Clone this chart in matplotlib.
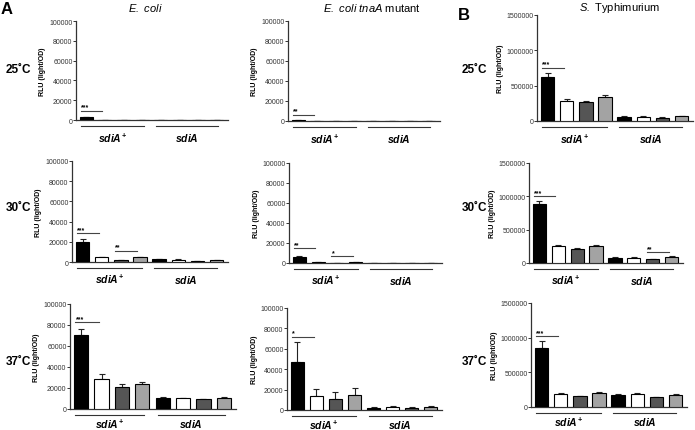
import numpy as np
import matplotlib
matplotlib.use('Agg')
import matplotlib.pyplot as plt
from matplotlib.transforms import offset_copy

plt.rcParams['font.family'] = ['Liberation Sans', 'DejaVu Sans']
plt.rcParams['mathtext.fontset'] = 'custom'
plt.rcParams['mathtext.it'] = 'Liberation Sans:italic:bold'
plt.rcParams['mathtext.rm'] = 'Liberation Sans:bold'
plt.rcParams['mathtext.bf'] = 'Liberation Sans:bold'
plt.rcParams['mathtext.sf'] = 'Liberation Sans:italic'

# data (RLU light/OD), 4 conditions per group: sdiA+ then sdiA
ecoli_25 = [2800, 400, 400, 400, 250, 250, 250, 250]
ecoli_25_err = [600, 50, 50, 50, 30, 30, 30, 30]
ecoli_30 = [20000, 4600, 1800, 4800, 2500, 2200, 900, 1700]
ecoli_30_err = [2800, 400, 200, 500, 300, 300, 100, 200]
ecoli_37 = [70500, 28500, 20800, 23500, 10300, 10500, 9500, 10400]
ecoli_37_err = [6000, 4800, 3000, 2000, 1200, 300, 300, 600]

tnaa_25 = [1000, 300, 300, 300, 100, 100, 100, 100]
tnaa_25_err = [200, 50, 50, 50, 20, 20, 20, 20]
tnaa_30 = [5700, 1000, 300, 800, 100, 100, 100, 100]
tnaa_30_err = [1500, 200, 100, 200, 20, 20, 20, 20]
tnaa_37 = [46700, 13500, 11000, 15000, 2300, 3000, 2300, 3000]
tnaa_37_err = [20000, 7200, 6700, 6700, 1000, 1000, 1000, 1000]

styph_25 = [619000, 290000, 262000, 333000, 62000, 60000, 48000, 67000]
styph_25_err = [57000, 24000, 24000, 34000, 5000, 5000, 4000, 5000]
styph_30 = [879000, 252000, 217000, 252000, 81000, 76000, 56000, 96000]
styph_30_err = [50000, 15000, 15000, 15000, 10000, 8000, 8000, 10000]
styph_37 = [850000, 192000, 154000, 200000, 178000, 192000, 139000, 178000]
styph_37_err = [100000, 15000, 10000, 15000, 10000, 10000, 8000, 10000]

# significance brackets: (first bar, second bar, height, stars)
sig_ecoli_25 = [(0, 1, 9400, '***')]
sig_ecoli_30 = [(0, 1, 28400, '***'), (2, 3, 11200, '**')]
sig_ecoli_37 = [(0, 1, 83000, '***')]
sig_tnaa_25 = [(0, 1, 6300, '**')]
sig_tnaa_30 = [(0, 1, 15000, '**'), (2, 3, 6700, '*')]
sig_tnaa_37 = [(0, 1, 72000, '*')]
sig_styph_25 = [(0, 1, 757000, '***')]
sig_styph_30 = [(0, 1, 1005000, '***'), (6, 7, 167000, '**')]
sig_styph_37 = [(0, 1, 1024000, '***')]

ecoli_ticks = [0, 20000, 40000, 60000, 80000, 100000]
styph_ticks = [0, 500000, 1000000, 1500000]
temps = ['25˚C', '30˚C', '37˚C']
groups = [r'$\mathit{sdiA}^{\mathrm{+}}$', r'$\mathit{sdiA}$']
bar_colors = ['#000000', '#ffffff', '#555555', '#a3a3a3']

W, H = 695, 431
fig = plt.figure(figsize=(W / 100, H / 100), dpi=100)

# axes boxes in pixels: left, right, top, bottom
boxes = [
    [(76, 228, 22, 121), (288, 440, 22, 122), (537, 693, 16, 122)],
    [(72, 228, 162, 263), (289, 442, 164, 264), (529, 683, 164, 264)],
    [(70, 236, 305, 410), (287, 442, 309, 411), (531, 687, 304, 408)],
]
label_offsets = [-12.5, -12, -10]
panels = [
    [(ecoli_25, ecoli_25_err, sig_ecoli_25), (tnaa_25, tnaa_25_err, sig_tnaa_25), (styph_25, styph_25_err, sig_styph_25)],
    [(ecoli_30, ecoli_30_err, sig_ecoli_30), (tnaa_30, tnaa_30_err, sig_tnaa_30), (styph_30, styph_30_err, sig_styph_30)],
    [(ecoli_37, ecoli_37_err, sig_ecoli_37), (tnaa_37, tnaa_37_err, sig_tnaa_37), (styph_37, styph_37_err, sig_styph_37)],
]

x = np.arange(8)
for r in range(3):
    for c in range(3):
        l, rr, t, b = boxes[r][c]
        ax = fig.add_axes([l / W, 1 - b / H, (rr - l) / W, (b - t) / H])
        vals, errs, sigs = panels[r][c]
        cols = bar_colors * 2
        ax.bar(x, vals, width=0.7, color=cols, edgecolor='black', linewidth=0.8, zorder=3)
        ax.errorbar(x, vals, yerr=[np.zeros(8), errs], fmt='none', ecolor='#222222',
                    elinewidth=0.8, capsize=2.2, capthick=0.8, zorder=2)
        ax.set_xlim(-0.55, 7.6)
        if c == 2:
            ax.set_ylim(0, 1500000)
            ax.set_yticks(styph_ticks)
        else:
            ax.set_ylim(0, 100000)
            ax.set_yticks(ecoli_ticks)
        ax.set_yticklabels([str(v) for v in ax.get_yticks().astype(int)])
        ax.set_xticks([])
        for s in ['top', 'right']:
            ax.spines[s].set_visible(False)
        for s in ['left', 'bottom']:
            ax.spines[s].set_linewidth(0.9)
            ax.spines[s].set_color('#333333')
        ax.tick_params(axis='y', labelsize=5, length=2, width=0.7, pad=0.5,
                       color='#333333', labelcolor='#333333')
        ax.set_ylabel('RLU (light/OD)', fontsize=5, fontweight='bold', labelpad=2)

        # group underlines and labels
        trans_line = offset_copy(ax.get_xaxis_transform(), fig=fig, y=-4, units='points')
        for x0, x1, lab in [(-0.3, 3.1, groups[0]), (3.75, 7.05, groups[1])]:
            ax.plot([x0, x1], [0, 0], color='#333333', lw=0.8,
                    transform=trans_line, clip_on=False)
            ax.annotate(lab, xy=((x0 + x1) / 2, 0), xycoords=('data', 'axes fraction'),
                        xytext=(0, label_offsets[r]), textcoords='offset points',
                        ha='center', va='center', fontsize=7.5)

        # significance
        for i, j, y, stars in sigs:
            ax.plot([i - 0.3, j - 0.15], [y, y], color='#444444', lw=0.8,
                    clip_on=False, zorder=4)
            ax.text(i - 0.28, y, stars, fontsize=5, fontweight='bold',
                    ha='left', va='bottom', zorder=4)

# titles
fig.text(145 / W, 1 - 8 / H, r'$\mathsf{E.\ coli}$', ha='center', va='center', fontsize=8)
fig.text(372 / W, 1 - 8 / H, r'$\mathsf{E.\ coli\ tnaA}$ mutant', ha='center', va='center', fontsize=8)
fig.text(620 / W, 1 - 8 / H, r'$\mathsf{S.}$ Typhimurium', ha='center', va='center', fontsize=8)

# panel letters
fig.text(1 / W, 1 - 9 / H, 'A', fontsize=12, fontweight='bold', ha='left', va='center')
fig.text(458 / W, 1 - 15 / H, 'B', fontsize=12, fontweight='bold', ha='left', va='center')

# temperature labels
for ty, lab in zip([70, 208, 362], temps):
    fig.text(31 / W, 1 - ty / H, lab, fontsize=8.5, fontweight='bold', ha='right', va='center')
    fig.text(487 / W, 1 - ty / H, lab, fontsize=8.5, fontweight='bold', ha='right', va='center')

fig.savefig('out.png', dpi=100)
